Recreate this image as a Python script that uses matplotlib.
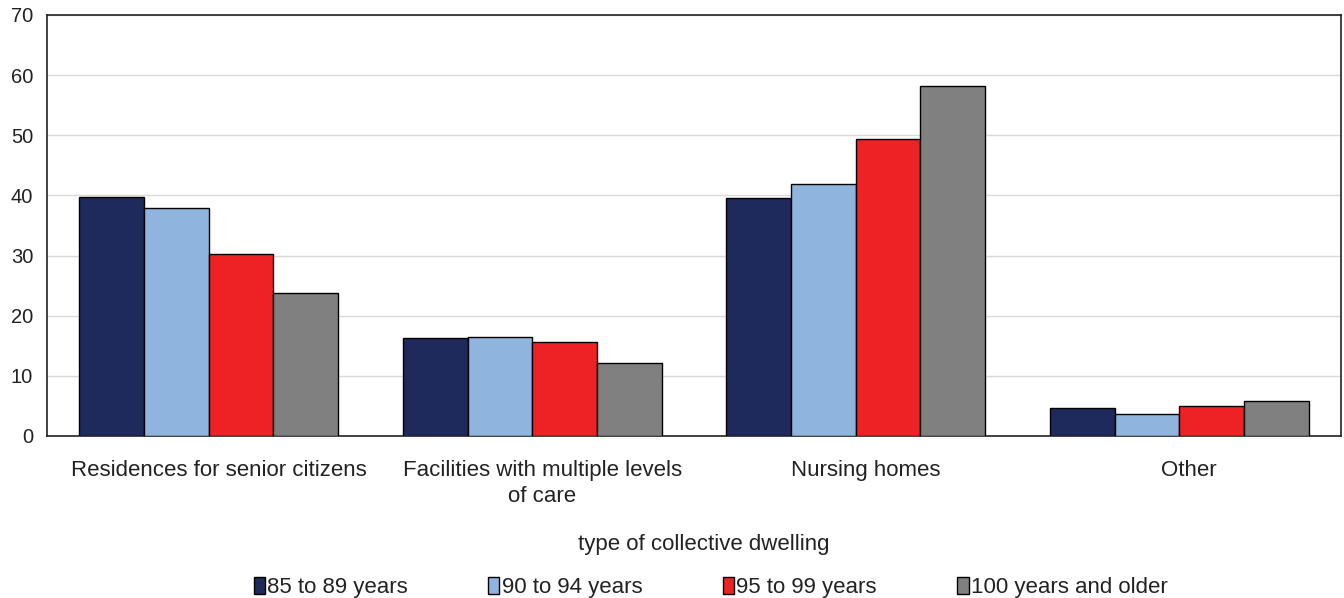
import numpy as np
import matplotlib
matplotlib.use("Agg")
import matplotlib.pyplot as plt
import matplotlib.transforms as mtransforms

# data
categories = ["Residences for senior citizens",
              "Facilities with multiple levels\nof care",
              "Nursing homes",
              "Other"]
series_names = ["85 to 89 years", "90 to 94 years",
                "95 to 99 years", "100 years and older"]
age_85_89 = [39.8, 16.3, 39.5, 4.6]
age_90_94 = [37.9, 16.4, 41.9, 3.7]
age_95_99 = [30.3, 15.6, 49.3, 4.9]
age_100_plus = [23.7, 12.2, 58.2, 5.8]
y_ticks = [0, 10, 20, 30, 40, 50, 60, 70]

colors = ["#1e2a5b", "#8fb4dd", "#ee2124", "#808080"]

plt.rcParams['font.family'] = ['Liberation Sans', 'DejaVu Sans']

fig = plt.figure(figsize=(13.44, 5.98), dpi=100)
ax = fig.add_axes([0.035, 0.271, 0.9628, 0.704])

x = np.arange(len(categories))
width = 0.2
all_series = [age_85_89, age_90_94, age_95_99, age_100_plus]
for i, vals in enumerate(all_series):
    ax.bar(x + (i - 1.5) * width, vals, width, color=colors[i],
           edgecolor="black", linewidth=1.0, label=series_names[i],
           zorder=3)

ax.set_xlim(-0.5, 3.5)
ax.set_ylim(0, 70)
ax.set_yticks(y_ticks)
ax.set_xticks(x)
ax.set_xticklabels(categories, fontsize=16, color="#222222",
                   linespacing=1.3)
ax.tick_params(axis="y", length=0, pad=10, labelsize=14.5,
               labelcolor="#222222")
ax.tick_params(axis="x", length=0, pad=17.5)
# category labels sit a little right of the group centres in the original
shift = mtransforms.ScaledTranslation(10 / 100, 0, fig.dpi_scale_trans)
for lbl in ax.get_xticklabels():
    lbl.set_transform(lbl.get_transform() + shift)

ax.yaxis.grid(True, color="#d9d9d9", linewidth=1.0, zorder=0)
for s in ax.spines.values():
    s.set_color("#222222")
    s.set_linewidth(1.2)

ax.set_xlabel("type of collective dwelling", fontsize=16,
              color="#222222")
ax.xaxis.set_label_coords(0.5077, -0.232)

fig.legend(loc="center", bbox_to_anchor=(0.5287, 0.017), ncol=4,
           frameon=False, fontsize=16, handlelength=0.5,
           handleheight=0.75, handletextpad=0.1, columnspacing=3.63,
           labelcolor="#222222")

fig.savefig("out.png", dpi=100)
